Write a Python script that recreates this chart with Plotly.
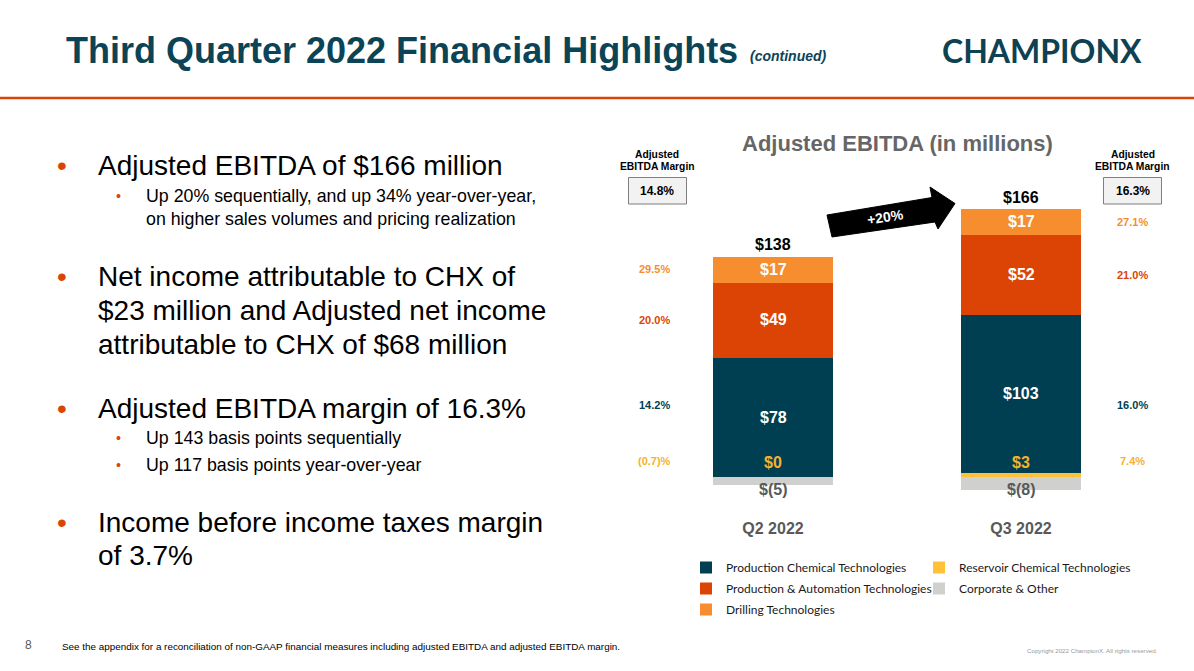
import numpy as np
import plotly.graph_objects as go

W, H = 1194, 671

# ---------------- data ----------------
quarters = ["Q2 2022", "Q3 2022"]
series_names = ["Reservoir Chemical Technologies", "Production Chemical Technologies",
                "Production & Automation Technologies", "Drilling Technologies",
                "Corporate & Other"]
reservoir = [0, 3]
pct = [78, 103]
pat = [49, 52]
drilling = [17, 17]
corporate = [-5, -8]
totals = [138, 166]

margin_reservoir = [-0.7, 7.4]
margin_pct = [14.2, 16.0]
margin_pat = [20.0, 21.0]
margin_drilling = [29.5, 27.1]
margin_total = [14.8, 16.3]
growth_label = "+20%"

colors = {
    "Reservoir Chemical Technologies": "#FFC03A",
    "Production Chemical Technologies": "#003F51",
    "Production & Automation Technologies": "#DC4405",
    "Drilling Technologies": "#F68D2E",
    "Corporate & Other": "#D0D0CE",
}
text_colors = {"res": "#F4B22E", "pct": "#003F51", "pat": "#DC4405", "drl": "#F68D2E"}

ARIAL = "Liberation Sans, Arial, sans-serif"


def px(x):
    return x / W


def py(y):
    return 1 - y / H


x = np.arange(len(quarters))
values = [reservoir, pct, pat, drilling, corporate]
legend_of = ["legend2", "legend", "legend", "legend", "legend2"]

fig = go.Figure()
for name, vals, lg in zip(series_names, values, legend_of):
    fig.add_trace(go.Bar(
        x=x, y=vals, name=name, width=0.48, legendgroup=name,
        marker=dict(color=colors[name], line=dict(width=0)),
        legend=lg, hoverinfo="skip",
    ))

ann = []


def A(**kw):
    kw.setdefault("xanchor", "center")
    kw.setdefault("yanchor", "middle")
    kw.setdefault("showarrow", False)
    ann.append(kw)


res = np.array(reservoir, float)
p1 = np.array(pct, float)
p2 = np.array(pat, float)
p3 = np.array(drilling, float)
mid_pct = res + p1 / 2
mid_pat = res + p1 + p2 / 2
mid_drl = res + p1 + p2 + p3 / 2
top = res + p1 + p2 + p3

for i in range(len(quarters)):
    for val, mid in ((pct[i], mid_pct[i]), (pat[i], mid_pat[i]), (drilling[i], mid_drl[i])):
        A(x=x[i], y=mid, xref="x", yref="y", text=f"<b>${val}</b>",
          font=dict(family=ARIAL, size=16, color="white"))
    A(x=x[i], y=0, xref="x", yref="y", yshift=14, text=f"<b>${reservoir[i]}</b>",
      font=dict(family=ARIAL, size=16, color=text_colors["res"]))
    A(x=x[i], y=0, xref="x", yref="y", yshift=-13, text=f"<b>$({abs(corporate[i])})</b>",
      font=dict(family=ARIAL, size=16, color="#595959"))
    A(x=x[i], y=top[i], xref="x", yref="y", yanchor="bottom", yshift=1,
      text=f"<b>${totals[i]}</b>", font=dict(family=ARIAL, size=16, color="black"))


def fmt_pct(v):
    return f"({abs(v):.1f})%" if v < 0 else f"{v:.1f}%"


pct_row = float(np.mean(mid_pct))
margin_x = [px(655), px(1132)]
for i in range(len(quarters)):
    rows = [(margin_drilling[i], mid_drl[i], "drl", 0), (margin_pat[i], mid_pat[i], "pat", 0),
            (margin_pct[i], pct_row, "pct", 0), (margin_reservoir[i], 0, "res", 16)]
    for v, yy, key, sh in rows:
        A(x=margin_x[i], y=yy, xref="paper", yref="y", yshift=sh,
          text=f"<b>{fmt_pct(v)}</b>", font=dict(family=ARIAL, size=11, color=text_colors[key]))

shapes = []
box_centers = [657.5, 1132.5]
for i, cx in enumerate(box_centers):
    A(x=px(cx), y=py(154.5), xref="paper", yref="paper", text="<b>Adjusted</b>",
      font=dict(family=ARIAL, size=10.3, color="black"))
    A(x=px(cx), y=py(166), xref="paper", yref="paper", text="<b>EBITDA Margin</b>",
      font=dict(family=ARIAL, size=10.3, color="black"))
    shapes.append(dict(type="rect", xref="paper", yref="paper",
                       x0=px(cx - 29), x1=px(cx + 29), y0=py(204), y1=py(177.5),
                       fillcolor="#F2F2F2", line=dict(color="#7F7F7F", width=1)))
    A(x=px(cx), y=py(191), xref="paper", yref="paper", text=f"<b>{margin_total[i]:.1f}%</b>",
      font=dict(family=ARIAL, size=12, color="black"))

A(x=px(897), y=py(143), xref="paper", yref="paper",
  text="<b>Adjusted EBITDA (in millions)</b>", font=dict(family=ARIAL, size=22, color="#666666"))

# growth arrow
arrow_pts = [(827, 215), (932, 197.5), (930, 187), (955, 203.5), (938, 229), (935, 222), (832, 237)]
path = "M " + " L ".join(f"{px(a):.5f},{py(b):.5f}" for a, b in arrow_pts) + " Z"
shapes.append(dict(type="path", xref="paper", yref="paper", path=path,
                   fillcolor="black", line=dict(color="black", width=1)))
A(x=px(885), y=py(217), xref="paper", yref="paper", text=f"<b>{growth_label}</b>",
  textangle=-9, font=dict(family=ARIAL, size=14, color="white"))

# ---------------- slide chrome ----------------
A(x=px(64), y=py(50), xref="paper", yref="paper", xanchor="left",
  text="<b>Third Quarter 2022 Financial Highlights</b>",
  font=dict(family=ARIAL, size=36, color="#0B4457"))
A(x=px(748), y=py(56), xref="paper", yref="paper", xanchor="left",
  text="<b><i>(continued)</i></b>", font=dict(family=ARIAL, size=14, color="#0B4457"))
A(x=px(940), y=py(50), xref="paper", yref="paper", xanchor="left",
  text="<b>CHAMPIONX</b>", font=dict(family="Lato, sans-serif", size=32, color="#0E4152"))
shapes.append(dict(type="line", xref="paper", yref="paper", x0=0, x1=1, y0=py(98), y1=py(98),
                   line=dict(color="#DC4405", width=2.5)))

MAIN, SUB = 28, 17.8
bullets = [
    (165, MAIN, 62, 96, "Adjusted EBITDA of $166 million", True),
    (196, SUB, 118, 144, "Up 20% sequentially, and up 34% year-over-year,", True),
    (219, SUB, 118, 144, "on higher sales volumes and pricing realization", False),
    (276, MAIN, 62, 96, "Net income attributable to CHX of", True),
    (310, MAIN, 62, 96, "$23 million and Adjusted net income", False),
    (344, MAIN, 62, 96, "attributable to CHX of $68 million", False),
    (408, MAIN, 62, 96, "Adjusted EBITDA margin of 16.3%", True),
    (438, SUB, 118, 144, "Up 143 basis points sequentially", True),
    (465, SUB, 118, 144, "Up 117 basis points year-over-year", True),
    (522, MAIN, 62, 96, "Income before income taxes margin", True),
    (555, MAIN, 62, 96, "of 3.7%", False),
]
for yy, fs, bx, tx, txt, dot in bullets:
    A(x=px(tx), y=py(yy), xref="paper", yref="paper", xanchor="left",
      text=txt, font=dict(family=ARIAL, size=fs, color="black"))
    if dot:
        A(x=px(bx), y=py(yy), xref="paper", yref="paper",
          text="•", font=dict(family=ARIAL, size=fs * (1.0 if fs == MAIN else 0.8), color="#DC4405"))

A(x=px(28), y=py(645), xref="paper", yref="paper", text="8",
  font=dict(family=ARIAL, size=12, color="#595959"))
A(x=px(60), y=py(646), xref="paper", yref="paper", xanchor="left",
  text="See the appendix for a reconciliation of non-GAAP financial measures including adjusted EBITDA and adjusted EBITDA margin.",
  font=dict(family=ARIAL, size=9.9, color="black"))
A(x=px(1160), y=py(650), xref="paper", yref="paper", xanchor="right",
  text="Copyright 2022 ChampionX. All rights reserved.",
  font=dict(family=ARIAL, size=6.2, color="#999999"))

# ---------------- layout ----------------
x0_pix, x1_pix = 649, 1145
legend_font = dict(family="Lato, sans-serif", size=12, color="#1a1a1a")
fig.update_layout(
    width=W, height=H,
    margin=dict(l=0, r=0, t=0, b=0),
    paper_bgcolor="white", plot_bgcolor="white",
    barmode="relative", bargap=0,
    showlegend=True,
    legend=dict(x=px(686), y=py(553), xanchor="left", yanchor="top", traceorder="grouped",
                orientation="v", bgcolor="rgba(0,0,0,0)", tracegroupgap=2,
                itemclick=False, itemdoubleclick=False, font=legend_font),
    legend2=dict(x=px(919), y=py(553), xanchor="left", yanchor="top", traceorder="grouped",
                 orientation="v", bgcolor="rgba(0,0,0,0)", tracegroupgap=2,
                 itemclick=False, itemdoubleclick=False, font=legend_font),
    xaxis=dict(domain=[px(x0_pix), px(x1_pix)], range=[-0.5, 1.5],
               tickvals=list(x), ticktext=[f"<b>{q}</b>" for q in quarters],
               ticks="outside", ticklen=6, tickcolor="rgba(0,0,0,0)",
               tickfont=dict(family=ARIAL, size=16, color="#595959"),
               showgrid=False, zeroline=False, showline=False, fixedrange=True),
    yaxis=dict(domain=[py(507.66), py(185.73)], range=[-20, 190],
               visible=False, showgrid=False, zeroline=False, fixedrange=True),
    annotations=ann,
    shapes=shapes,
    hovermode=False,
)

fig.write_html("out.html", config={"displayModeBar": False})
